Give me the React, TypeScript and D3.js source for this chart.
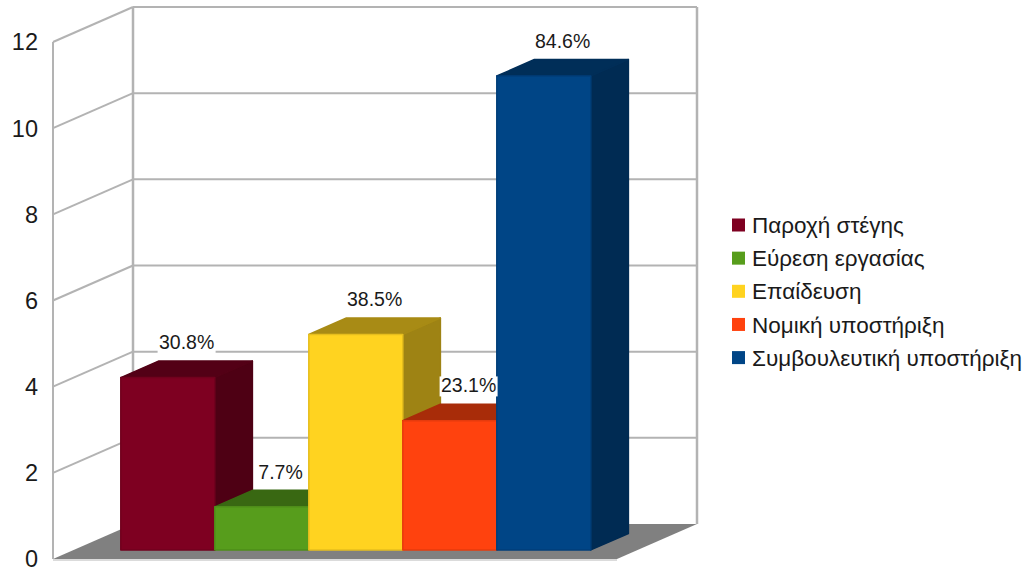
import React from "react";
import * as d3 from "d3";

// Chart data
const categories: string[] = [
  "Παροχή στέγης",
  "Εύρεση εργασίας",
  "Επαίδευση",
  "Νομική υποστήριξη",
  "Συμβουλευτική υποστήριξη",
];
const counts: number[] = [4, 1, 5, 3, 11];
const percentLabels: string[] = ["30.8%", "7.7%", "38.5%", "23.1%", "84.6%"];
const yTicks: number[] = [0, 2, 4, 6, 8, 10, 12];
const colors: string[] = ["#7e0021", "#579d1c", "#ffd320", "#ff420e", "#004586"];

const W = 1027;
const H = 571;
const FONT = "'Liberation Sans', Arial, sans-serif";

// Oblique 3D frame
const frontX0 = 53;
const floorW = 564;
const depthDX = 80;
const depthDY = 35;
const barZ0 = 0.26;
const barZ1 = 0.73;

const y = d3.scaleLinear().domain([0, 12]).range([559, 42]);
const x = d3.scaleBand<string>().domain(categories).range([0, floorW]).paddingInner(0).paddingOuter(0.5);

const proj = (px: number, v: number, z: number): [number, number] => [
  frontX0 + px + z * depthDX,
  y(v) - z * depthDY,
];

const poly = (pts: [number, number][]) => pts.map((p) => p.join(",")).join(" ");

const shade = (c: string, k: number) => {
  const col = d3.rgb(c);
  return d3.rgb(col.r * k, col.g * k, col.b * k).formatHex();
};

const GRID = "#b3b3b3";

export default function App() {
  const [vMin, vMax] = y.domain();
  return (
    <svg
      width={W}
      height={H}
      style={{ position: "absolute", left: 0, top: 0, background: "#fff" }}
      fontFamily={FONT}
    >
      {/* floor */}
      <polygon
        points={poly([proj(0, 0, 0), proj(floorW, 0, 0), proj(floorW, 0, 1), proj(0, 0, 1)])}
        fill="#808080"
      />
      <line
        x1={proj(0, 0, 0)[0]}
        y1={proj(0, 0, 0)[1] + 1}
        x2={proj(floorW, 0, 0)[0]}
        y2={proj(floorW, 0, 0)[1] + 1}
        stroke="#cfcfcf"
        strokeWidth={1.5}
      />

      {/* left wall and back wall grid */}
      {yTicks.map((t) => {
        const a = proj(0, t, 0);
        const b = proj(0, t, 1);
        const c = proj(floorW, t, 1);
        return (
          <g key={t}>
            {t > 0 && <line x1={a[0]} y1={a[1]} x2={b[0]} y2={b[1]} stroke={GRID} strokeWidth={2} />}
            {t > 0 && <line x1={b[0]} y1={b[1]} x2={c[0]} y2={c[1]} stroke={GRID} strokeWidth={2} />}
          </g>
        );
      })}
      <line
        x1={proj(0, vMin, 0)[0]}
        y1={proj(0, vMin, 0)[1]}
        x2={proj(0, vMax, 0)[0]}
        y2={proj(0, vMax, 0)[1]}
        stroke={GRID}
        strokeWidth={2}
      />
      <line
        x1={proj(0, vMin, 1)[0]}
        y1={proj(0, vMin, 1)[1]}
        x2={proj(0, vMax, 1)[0]}
        y2={proj(0, vMax, 1)[1]}
        stroke={GRID}
        strokeWidth={2.5}
      />
      <line
        x1={proj(floorW, vMin, 1)[0]}
        y1={proj(floorW, vMin, 1)[1]}
        x2={proj(floorW, vMax, 1)[0]}
        y2={proj(floorW, vMax, 1)[1]}
        stroke={GRID}
        strokeWidth={2.5}
      />

      {/* y-axis tick labels */}
      {yTicks.map((t) => (
        <text
          key={"t" + t}
          x={38}
          y={y(t)}
          dy="0.36em"
          textAnchor="end"
          fontSize={23.5}
          fill="#1a1a1a"
        >
          {t}
        </text>
      ))}

      {/* bars */}
      {categories.map((cat, i) => {
        const x0 = x(cat)!;
        const x1 = x0 + x.bandwidth();
        const v = counts[i];
        const c = colors[i];
        const dark = shade(c, 0.62);
        const front = poly([proj(x0, 0, barZ0), proj(x1, 0, barZ0), proj(x1, v, barZ0), proj(x0, v, barZ0)]);
        const side = poly([proj(x1, 0, barZ0), proj(x1, 0, barZ1), proj(x1, v, barZ1), proj(x1, v, barZ0)]);
        const top = poly([proj(x0, v, barZ0), proj(x1, v, barZ0), proj(x1, v, barZ1), proj(x0, v, barZ1)]);
        return (
          <g key={cat} strokeLinejoin="round" strokeWidth={1.5}>
            <polygon points={side} fill={dark} stroke={dark} />
            <polygon points={top} fill={shade(c, 0.66)} stroke={shade(c, 0.66)} />
            <polygon points={front} fill={c} stroke={shade(c, 0.9)} />
          </g>
        );
      })}

      {/* value labels */}
      {categories.map((cat, i) => {
        const cx = x(cat)! + x.bandwidth() / 2;
        const [lx, ly] = proj(cx, counts[i], (barZ0 + barZ1) / 2);
        const by = ly - 20;
        const label = percentLabels[i];
        const w = label.length * 11.2 + 2;
        return (
          <g key={"l" + cat}>
            <rect x={lx - w / 2} y={by - 16} width={w} height={20} fill="#fff" />
            <text x={lx} y={by} textAnchor="middle" fontSize={19.5} fill="#1a1a1a">
              {label}
            </text>
          </g>
        );
      })}

      {/* legend */}
      {categories.map((cat, i) => (
        <g key={"g" + cat} transform={`translate(732, ${225 + i * 33.15})`}>
          <rect x={0} y={-6.5} width={13} height={13} fill={colors[i]} />
          <text x={20} y={0} dy="0.36em" fontSize={22.5} fill="#1a1a1a">
            {cat}
          </text>
        </g>
      ))}
    </svg>
  );
}
